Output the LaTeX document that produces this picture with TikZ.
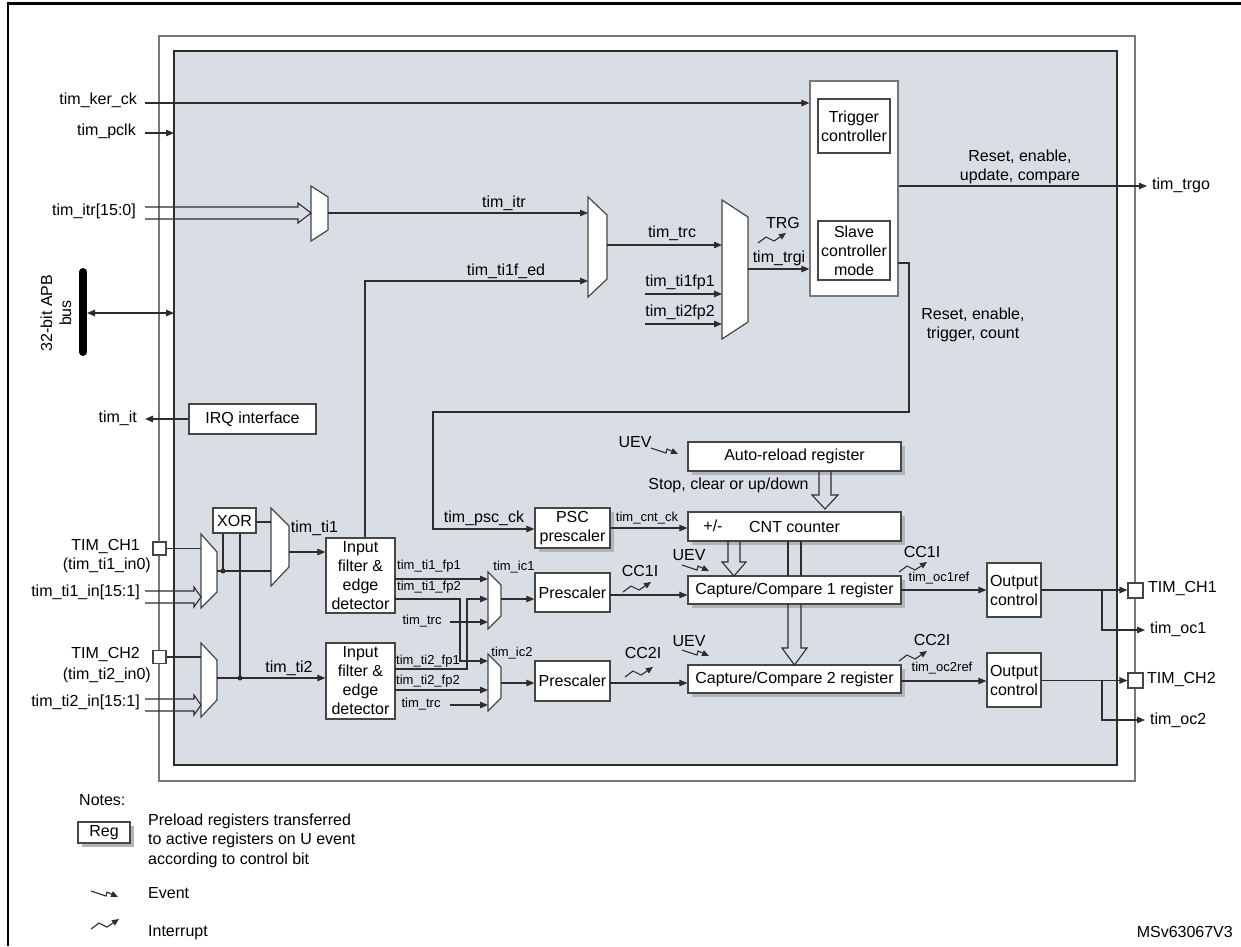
\documentclass[tikz,border=0pt]{standalone}
\usepackage{fontspec}
\setmainfont{Liberation Sans}
\usetikzlibrary{arrows.meta,calc,shadows}
\definecolor{panel}{RGB}{217,221,228}
\definecolor{lc}{RGB}{45,45,45}
\definecolor{bc}{RGB}{70,70,70}
\definecolor{shc}{RGB}{178,180,184}
\definecolor{frm}{RGB}{120,120,120}
\newcommand\fmain{\fontsize{16}{19}\selectfont}
\newcommand\fsmall{\fontsize{13}{15}\selectfont}
\newcommand\evsym[2]{\draw[lc, line width=1.1pt, -{Triangle[length=7pt,width=6pt]}] (#1,#2) -- ++(15,5) -- ++(1,-4) -- ++(11,5);}
\newcommand\irsym[2]{\draw[lc, line width=1.1pt, -{Triangle[length=7pt,width=6pt]}] (#1,#2) ++(0,10) -- ++(8,-6) -- ++(8,4) -- ++(12,-8);}
\begin{document}
\begin{tikzpicture}[x=1pt,y=-1pt,
  ln/.style={draw=lc, line width=1.1pt},
  arr/.style={ln, -{Triangle[length=8pt,width=6.5pt]}},
  box/.style={draw=bc, line width=1.2pt, fill=white, inner sep=0pt, align=center, font=\fmain},
  reg/.style={box, general shadow={fill=shc, shadow xshift=4pt, shadow yshift=-4pt}},
  mux/.style={draw=bc, line width=1.2pt, fill=white, line join=miter},
  port/.style={draw=bc, line width=1.1pt, fill=white, minimum size=13pt, inner sep=0pt},
  lbl/.style={font=\fmain, inner sep=0pt},
  slbl/.style={font=\fsmall, inner sep=0pt},
  bus/.style={draw=lc, line width=1.1pt, line join=miter},
  dot/.style={circle, fill=lc, inner sep=0pt, minimum size=5pt}
]
\useasboundingbox (0,0) rectangle (1241,946);
\fill[white] (0,0) rectangle (1241,946);
\draw[black, line width=2.5pt] (8,946) -- (8,3.5) -- (1241,3.5);
\draw[frm, line width=1.5pt, fill=white] (159,36) rectangle (1135,781);
\draw[lc, line width=2pt, fill=panel] (174,51) rectangle (1117,765);

% ---------- boxes ----------
\node[box, draw=frm, minimum width=88pt, minimum height=215pt] (ts) at (854,188.5) {};
\node[box, minimum width=72pt, minimum height=54pt] (trig) at (854,126) {Trigger\\controller};
\node[box, minimum width=72pt, minimum height=59pt] (slave) at (854,250.5) {Slave\\controller\\mode};
\node[box, minimum width=127pt, minimum height=30pt] (irq) at (252.5,419) {IRQ interface};
\node[box, minimum width=43pt, minimum height=25pt] (xor) at (234.5,520.5) {XOR};
\node[box, minimum width=69pt, minimum height=75pt] (f1) at (360.5,575.5) {Input\\filter \&\\edge\\detector};
\node[box, minimum width=69pt, minimum height=76pt] (f2) at (360.5,681) {Input\\filter \&\\edge\\detector};
\node[reg, minimum width=75pt, minimum height=40pt] (psc) at (572.5,528) {PSC\\prescaler};
\node[box, minimum width=75pt, minimum height=39pt] (pre1) at (572.5,592.5) {Prescaler};
\node[box, minimum width=75pt, minimum height=40pt] (pre2) at (572.5,681) {Prescaler};
\node[reg, minimum width=213pt, minimum height=29pt] (areg) at (794.5,456.5) {Auto-reload register};
\node[reg, minimum width=213pt, minimum height=29pt] (cnt) at (794.5,526.5) {CNT counter};
\node[reg, minimum width=213pt, minimum height=28pt] (cc1) at (794.5,590) {Capture/Compare 1 register};
\node[reg, minimum width=213pt, minimum height=28pt] (cc2) at (794.5,679) {Capture/Compare 2 register};
\node[box, minimum width=54pt, minimum height=54pt] (oc1) at (1014,590) {Output\\control};
\node[box, minimum width=54pt, minimum height=54pt] (oc2) at (1014,680) {Output\\control};
\node[port] (pi1) at (159.5,548.5) {};
\node[port] (pi2) at (159.5,657) {};
\node[port, minimum size=15pt] (po1) at (1135.5,590.5) {};
\node[port, minimum size=15pt] (po2) at (1135.5,680.5) {};

% ---------- multiplexers ----------
\draw[mux] (311,186) -- (328,197) -- (328,230) -- (311,241) -- cycle;
\coordinate (mAout) at (328,213);
\draw[mux] (588,197) -- (607,215) -- (607,279) -- (588,297) -- cycle;
\coordinate (mBin1) at (588,213); \coordinate (mBin2) at (588,281); \coordinate (mBout) at (607,245);
\draw[mux] (722,200) -- (748,217) -- (748,322) -- (722,339) -- cycle;
\coordinate (mCin1) at (722,245); \coordinate (mCout) at (748,269);
\draw[mux] (201,534) -- (217,552) -- (217,592) -- (201,608) -- cycle;
\coordinate (mD1) at (201,548.5); \coordinate (mDout) at (217,571);
\draw[mux] (201,643) -- (217,660) -- (217,700) -- (201,717) -- cycle;
\coordinate (mE1) at (201,657); \coordinate (mEout) at (217,678);
\draw[mux] (271,508) -- (289,526) -- (289,567) -- (271,586) -- cycle;
\coordinate (mFin1) at (271,522); \coordinate (mFin2) at (271,571); \coordinate (mFout) at (289,552);
\draw[mux] (488,572) -- (501,585) -- (501,616) -- (488,629) -- cycle;
\coordinate (mGout) at (501,599);
\draw[mux] (488,654) -- (501,667) -- (501,698) -- (488,711) -- cycle;
\coordinate (mHout) at (501,683);

% ---------- top connectors ----------
\coordinate (kin) at (145,103);
\draw[arr] (kin) -- (kin -| ts.west);
\coordinate (pin) at (145,133); \coordinate (pend) at (174,133);
\draw[arr] (pin) -- (pend);
\draw[bus] (145,207) -- (298,207) -- (298,203) -- (311,213) -- (298,223) -- (298,219) -- (145,219);
\draw[arr] (mAout) -- (mBin1);
\draw[arr] ($(f1.north)+(4.5,0)$) |- (mBin2);
\draw[arr] (mBout) -- (mCin1);
\coordinate (t1fp) at (645,294); \draw[arr] (t1fp) -- (t1fp -| mCin1);
\coordinate (t2fp) at (645,324); \draw[arr] (t2fp) -- (t2fp -| mCin1);
\draw[arr] (mCout) -- (mCout -| ts.west);
\coordinate (trgo) at (1147,186);
\draw[arr] (ts.east |- trgo) -- (trgo);
\coordinate (s0) at (898,263); \coordinate (s1) at (909,263); \coordinate (s2) at (909,412);
\coordinate (s3) at (433,412); \coordinate (s4) at (433,529);
\draw[arr] (s0) -- (s1) -- (s2) -- (s3) -- (s4) -- (s4 -| psc.west);
\draw[arr] (psc.east) -- (psc.east -| cnt.west);

% ---------- left side ----------
\draw[black, line width=8pt, line cap=round] (83,272) -- (83,352);
\coordinate (apbL) at (87,313); \coordinate (apbR) at (174,313);
\draw[ln, {Triangle[length=8pt,width=6.5pt]}-{Triangle[length=8pt,width=6.5pt]}] (apbL) -- (apbR);
\coordinate (itout) at (145,419);
\draw[arr] (irq.west) -- (itout);
\draw[ln] (pi1.east) -- (mD1);
\draw[ln] (pi2.east) -- (mE1);
\draw[bus] (145,591) -- (194,591) -- (194,587) -- (201,597) -- (194,607) -- (194,603) -- (145,603);
\draw[bus] (145,699) -- (194,699) -- (194,695) -- (201,705) -- (194,715) -- (194,711) -- (145,711);
\coordinate (d1) at (223,571); \coordinate (d2) at (240,678);
\draw[ln] (mDout) -- (mFin2);
\draw[ln] (xor.south -| d1) -- (d1);
\draw[ln] (xor.south -| d2) -- (d2);
\node[dot] at (d1) {}; \node[dot] at (d2) {};
\draw[ln] (xor.east |- mFin1) -- (mFin1);
\draw[arr] (mFout) -- (mFout -| f1.west);
\draw[arr] (mEout) -- (mEout -| f2.west);

% ---------- input capture cross wiring ----------
\coordinate (a1) at (395,579); \draw[arr] (a1) -- (488,579);
\coordinate (a2) at (395,599); \draw[arr] (a2) -- (460,599) -- (460,661) -- (488,661);
\coordinate (a3) at (450,622); \draw[arr] (a3) -- (488,622);
\coordinate (b1) at (395,669); \draw[arr] (b1) -- (467,669) -- (467,599) -- (488,599);
\coordinate (b2) at (395,690); \draw[arr] (b2) -- (488,690);
\coordinate (b3) at (450,705); \draw[arr] (b3) -- (488,705);
\draw[arr] (mGout) -- (mGout -| pre1.west);
\draw[arr] (mHout) -- (mHout -| pre2.west);
\coordinate (p1) at (610,595); \draw[arr] (p1) -- (p1 -| cc1.west);
\coordinate (p2) at (610,683); \draw[arr] (p2) -- (p2 -| cc2.west);

% ---------- register buses ----------
\draw[bus] (819,471) -- (819,495) -- (812,495) -- (825,509) -- (838,495) -- (831,495) -- (831,471);
\draw[bus] (728,541) -- (728,562) -- (722,562) -- (734,576) -- (746,562) -- (740,562) -- (740,541);
\draw[ln] (788,541) -- (788,576); \draw[ln] (801,541) -- (801,576);
\draw[bus] (788,604) -- (788,648) -- (782,648) -- (794.5,665) -- (807,648) -- (801,648) -- (801,604);

% ---------- outputs ----------
\coordinate (o1) at (901,590); \draw[arr] (o1) -- (o1 -| oc1.west);
\coordinate (o2) at (901,681); \draw[arr] (o2) -- (o2 -| oc2.west);
\coordinate (q1) at (1102,590); \coordinate (q1b) at (1102,630); \coordinate (q1e) at (1145,630);
\draw[arr] (oc1.east |- q1) -- (q1 -| po1.west);
\draw[arr] (q1) -- (q1b) -- (q1e);
\coordinate (q2) at (1102,680.5); \coordinate (q2b) at (1102,720); \coordinate (q2e) at (1145,720);
\draw[arr] (oc2.east |- q2) -- (q2 -| po2.west);
\draw[arr] (q2) -- (q2b) -- (q2e);

% ---------- event / interrupt symbols ----------
\evsym{651}{448}
\evsym{682}{565}
\evsym{682}{650}
\irsym{758}{233}
\irsym{623}{582}
\irsym{625}{667}
\irsym{899}{562}
\irsym{899}{651}

% ---------- labels ----------
\node[lbl, anchor=mid east] at (137,102) {tim\_ker\_ck};
\node[lbl, anchor=mid east] at (136,133) {tim\_pclk};
\node[lbl, anchor=mid east] at (136,213) {tim\_itr[15:0]};
\node[lbl, rotate=90, align=center] at (56,313) {32-bit APB\\bus};
\node[lbl, anchor=mid east] at (137,420) {tim\_it};
\node[lbl, anchor=mid east] at (140,548) {TIM\_CH1};
\node[lbl, anchor=mid east] at (151,567) {(tim\_ti1\_in0)};
\node[lbl, anchor=mid east] at (140,594) {tim\_ti1\_in[15:1]};
\node[lbl, anchor=mid east] at (140,656) {TIM\_CH2};
\node[lbl, anchor=mid east] at (151,677) {(tim\_ti2\_in0)};
\node[lbl, anchor=mid east] at (140,704) {tim\_ti2\_in[15:1]};
\node[lbl] at (314.5,528) {tim\_ti1};
\node[lbl] at (289,668) {tim\_ti2};
\node[lbl] at (504,203) {tim\_itr};
\node[lbl] at (506,271) {tim\_ti1f\_ed};
\node[lbl] at (672,233) {tim\_trc};
\node[lbl] at (680,282) {tim\_ti1fp1};
\node[lbl] at (680,312) {tim\_ti2fp2};
\node[lbl] at (783,223) {TRG};
\node[lbl] at (779,258) {tim\_trgi};
\node[lbl, align=center] at (1020,167) {Reset, enable,\\update, compare};
\node[lbl, anchor=mid west] at (1152,187) {tim\_trgo};
\node[lbl, align=center] at (973,325) {Reset, enable,\\trigger, count};
\node[lbl] at (484,518) {tim\_psc\_ck};
\node[slbl] at (647,518) {tim\_cnt\_ck};
\node[lbl] at (635,442) {UEV};
\node[lbl] at (728.5,485) {Stop, clear or up/down};
\node[lbl] at (713,526) {+/-};
\node[lbl] at (689,555) {UEV};
\node[lbl] at (689,641) {UEV};
\node[lbl] at (640,571) {CC1I};
\node[lbl] at (643,653) {CC2I};
\node[slbl] at (514,567) {tim\_ic1};
\node[slbl] at (512,653) {tim\_ic2};
\node[slbl, anchor=mid west] at (397,567) {tim\_ti1\_fp1};
\node[slbl, anchor=mid west] at (397,588) {tim\_ti1\_fp2};
\node[slbl] at (422,621) {tim\_trc};
\node[slbl, anchor=mid west] at (396,662) {tim\_ti2\_fp1};
\node[slbl, anchor=mid west] at (396,682) {tim\_ti2\_fp2};
\node[slbl] at (421,704) {tim\_trc};
\node[slbl] at (939,578) {tim\_oc1ref};
\node[lbl] at (922,552) {CC1I};
\node[slbl] at (942,668) {tim\_oc2ref};
\node[lbl] at (932,640) {CC2I};
\node[lbl, anchor=mid west] at (1148,590) {TIM\_CH1};
\node[lbl, anchor=mid west] at (1150,631) {tim\_oc1};
\node[lbl, anchor=mid west] at (1147,681) {TIM\_CH2};
\node[lbl, anchor=mid west] at (1150,722) {tim\_oc2};

% ---------- notes ----------
\node[lbl, anchor=mid west] at (79,803) {Notes:};
\node[reg, minimum width=52pt, minimum height=21pt] (regnote) at (104,832.5) {Reg};
\node[lbl, anchor=mid west] at (148,823) {Preload registers transferred};
\node[lbl, anchor=mid west] at (148,842) {to active registers on U event};
\node[lbl, anchor=mid west] at (148,862) {according to control bit};
\evsym{91}{891}
\node[lbl, anchor=mid west] at (148,896) {Event};
\irsym{91}{919}
\node[lbl, anchor=mid west] at (148,934) {Interrupt};
\node[lbl, anchor=mid east] at (1233,935) {MSv63067V3};
\end{tikzpicture}
\end{document}
